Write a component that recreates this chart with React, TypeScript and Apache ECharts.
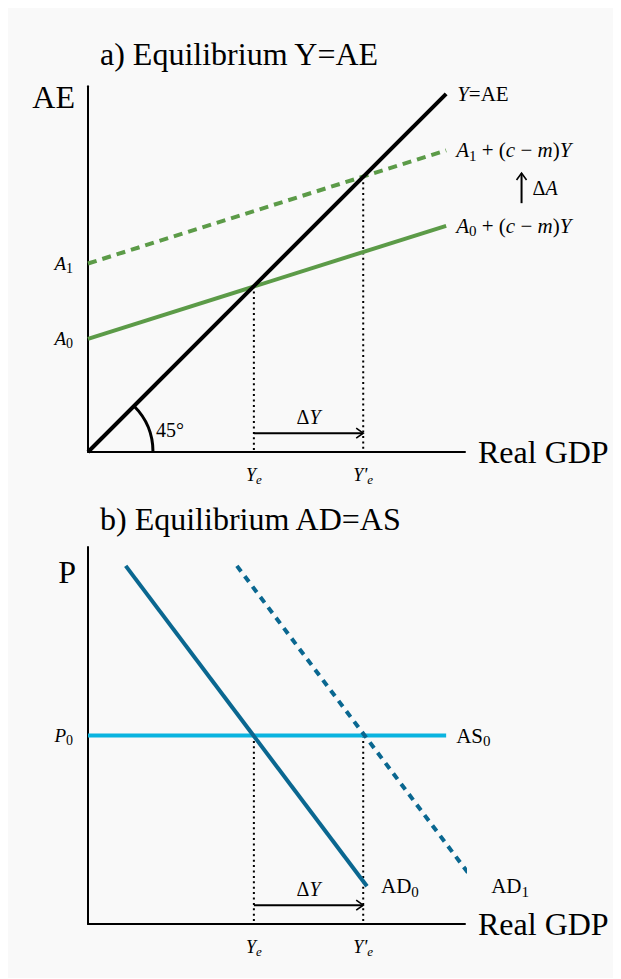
import React, { useEffect, useRef } from "react";
import * as echarts from "echarts";

// ---------- data (axis units; both panels share x scale 0..100) ----------
// Panel a) Equilibrium Y = AE
const lineYeqAE = [[0, 0], [95, 95]];
const lineA0 = [[0, 30], [95, 60]];
const lineA1 = [[0, 50], [95, 80]];
const A0 = 30;
const A1 = 50;
const Ye = 44;
const YeP = 73;
const dottedA = [
  [[Ye, Ye], [Ye, 0]],
  [[YeP, YeP], [YeP, 0]],
];
const arrowsA = [
  [Ye, 5, YeP, 5],
  [115, 66, 115, 74],
];
const arrowLabelsA = ["{n|Δ}{i|Y}", "{n|Δ}{i|A}"];
const arrowLabelSideA = ["above", "right"];

// Panel b) Equilibrium AD = AS
const P0 = 50;
const lineAS0 = [[0, P0], [95, P0]];
const lineAD0 = [[10, 95], [74, 10]];
const lineAD1 = [[39.5, 95], [103.5, 10]];
const dottedB = [
  [[Ye, P0], [Ye, 0]],
  [[YeP, P0], [YeP, 0]],
];
const arrowsB = [[Ye, 5, YeP, 5]];
const arrowLabelsB = ["{n|Δ}{i|Y}"];
const arrowLabelSideB = ["above"];

const titles = ["a) Equilibrium Y=AE", "b) Equilibrium AD=AS"];
const yNames = ["AE", "P"];
const xName = "Real GDP";

// ---------- styles ----------
const F = "Liberation Serif, Times New Roman, serif";
const GREEN = "#5c9b48";
const BLUE = "#0a6790";
const CYAN = "#0ab4e0";
const BLACK = "#000";
const BIG = 32;

function rich(size: number, sub: number) {
  return {
    i: { fontFamily: F, fontStyle: "italic", fontSize: size, lineHeight: size + 5, color: BLACK, fill: BLACK },
    n: { fontFamily: F, fontSize: size, lineHeight: size + 5, color: BLACK, fill: BLACK },
    s: { fontFamily: F, fontSize: sub, lineHeight: sub - 2, verticalAlign: "bottom", color: BLACK, fill: BLACK },
    se: { fontFamily: F, fontStyle: "italic", fontSize: sub, lineHeight: sub - 2, verticalAlign: "bottom", color: BLACK, fill: BLACK },
    p: { fontFamily: F, fontStyle: "italic", fontSize: size + 1, lineHeight: size + 5, color: BLACK, fill: BLACK },
  };
}

function seg(idx: number, data: number[][], color: string, width: number, type: any, label?: { text: string; distance: number }) {
  const d: any[] = data.map((p) => p.slice());
  if (label) {
    d[d.length - 1] = {
      value: data[data.length - 1],
      label: {
        show: true,
        position: "right",
        distance: label.distance,
        formatter: label.text,
        rich: rich(21, 15),
      },
    };
  }
  return {
    type: "line",
    xAxisIndex: idx,
    yAxisIndex: idx,
    data: d,
    symbol: "circle",
    symbolSize: 0,
    showSymbol: true,
    clip: false,
    silent: true,
    itemStyle: { color },
    lineStyle: { color, width, type, cap: "butt" },
    z: 3,
  };
}

function arrowSeries(idx: number, arrows: number[][], labels: string[], sides: string[]) {
  return {
    type: "custom",
    xAxisIndex: idx,
    yAxisIndex: idx,
    silent: true,
    clip: false,
    z: 4,
    encode: { x: [0, 2], y: [1, 3] },
    data: arrows,
    renderItem: (params: any, api: any) => {
      const i = params.dataIndex;
      const p1 = api.coord([api.value(0), api.value(1)]);
      const p2 = api.coord([api.value(2), api.value(3)]);
      const ang = Math.atan2(p2[1] - p1[1], p2[0] - p1[0]);
      const c = Math.cos(ang);
      const s = Math.sin(ang);
      const L = 7;
      const W = 5;
      const bx = p2[0] - L * c;
      const by = p2[1] - L * s;
      const mid = [(p1[0] + p2[0]) / 2, (p1[1] + p2[1]) / 2];
      const side = sides[i];
      const tx = side === "above" ? mid[0] : mid[0] + 11;
      const ty = side === "above" ? mid[1] - 16 : mid[1];
      return {
        type: "group",
        children: [
          {
            type: "line",
            shape: { x1: p1[0], y1: p1[1], x2: p2[0] - 0.5 * c, y2: p2[1] - 0.5 * s },
            style: { stroke: BLACK, lineWidth: 2 },
          },
          {
            type: "polyline",
            shape: { points: [[bx - W * s, by + W * c], [p2[0], p2[1]], [bx + W * s, by - W * c]] },
            style: { stroke: BLACK, lineWidth: 1.6, fill: null },
          },
          {
            type: "text",
            x: tx,
            y: ty,
            style: {
              text: labels[i],
              rich: rich(20, 14),
              align: side === "above" ? "center" : "left",
              verticalAlign: "middle",
              fill: BLACK,
            },
          },
        ],
      };
    },
  };
}

function angleSeries(idx: number) {
  return {
    type: "custom",
    xAxisIndex: idx,
    yAxisIndex: idx,
    silent: true,
    clip: false,
    z: 4,
    data: [[0, 0]],
    renderItem: (params: any, api: any) => {
      const o = api.coord([api.value(0), api.value(1)]);
      return {
        type: "group",
        children: [
          {
            type: "arc",
            shape: { cx: o[0], cy: o[1], r: 65, startAngle: -Math.PI / 4, endAngle: 0, clockwise: true },
            style: { stroke: BLACK, lineWidth: 3, fill: null },
          },
          {
            type: "text",
            x: o[0] + 68,
            y: o[1] - 22,
            style: { text: "45°", fontFamily: F, fontSize: 20, fill: BLACK, align: "left", verticalAlign: "middle" },
          },
        ],
      };
    },
  };
}

function xAxis(idx: number) {
  return {
    type: "value",
    gridIndex: idx,
    min: 0,
    max: 100,
    name: xName,
    nameLocation: "end",
    nameGap: 13,
    nameTextStyle: { fontFamily: F, fontSize: BIG, color: BLACK, verticalAlign: "middle" },
    axisLine: { show: true, onZero: false, lineStyle: { color: BLACK, width: 2 } },
    axisTick: { show: false },
    splitLine: { show: false },
    axisLabel: {
      customValues: [Ye, YeP],
      margin: 11,
      formatter: (v: number) => (v === Ye ? "{i|Y}{se|e}" : "{i|Y}{p|'}{se|e}"),
      rich: rich(18, 13),
    },
  };
}

function yAxis(idx: number, max: number, values: number[], fmt: (v: number) => string) {
  return {
    type: "value",
    gridIndex: idx,
    min: 0,
    max,
    axisLine: { show: true, onZero: false, lineStyle: { color: BLACK, width: 2 } },
    axisTick: { show: false },
    splitLine: { show: false },
    axisLabel: {
      customValues: values,
      margin: 15,
      formatter: fmt,
      rich: rich(19, 14),
    },
  };
}

export default function App() {
  const ref = useRef<HTMLDivElement>(null);
  useEffect(() => {
    document.documentElement.style.overflow = "hidden";
    const chart = echarts.init(ref.current!, null, { renderer: "svg" });
    const option: any = {
      animation: false,
      backgroundColor: "#f9f9f9",
      textStyle: { fontFamily: F },
      grid: [
        { left: 80, top: 78.3, width: 377, height: 365.7 },
        { left: 80, top: 539, width: 377, height: 377 },
      ],
      xAxis: [xAxis(0), xAxis(1)],
      yAxis: [
        yAxis(0, 97, [A0, A1], (v: number) => (v === A0 ? "{i|A}{s|0}" : "{i|A}{s|1}")),
        yAxis(1, 100, [P0], () => "{i|P}{s|0}"),
      ],
      graphic: [
        { type: "text", x: 92, y: 45.5, style: { text: titles[0], fontFamily: F, fontSize: BIG, fill: BLACK, verticalAlign: "middle" } },
        { type: "text", x: 92, y: 511, style: { text: titles[1], fontFamily: F, fontSize: BIG, fill: BLACK, verticalAlign: "middle" } },
        { type: "text", x: 67, y: 89, style: { text: yNames[0], fontFamily: F, fontSize: BIG, fill: BLACK, align: "right", verticalAlign: "middle" } },
        { type: "text", x: 68, y: 564, style: { text: yNames[1], fontFamily: F, fontSize: BIG, fill: BLACK, align: "right", verticalAlign: "middle" } },
      ],
      series: [
        // panel a
        ...dottedA.map((d) => seg(0, d, BLACK, 2, [2, 3.4])),
        seg(0, lineA0, GREEN, 4, "solid", { text: "{i|A}{s|0}{n| + (}{i|c}{n| − }{i|m}{n|)}{i|Y}", distance: 10 }),
        seg(0, lineA1, GREEN, 4, [9, 6], { text: "{i|A}{s|1}{n| + (}{i|c}{n| − }{i|m}{n|)}{i|Y}", distance: 10 }),
        seg(0, lineYeqAE, BLACK, 4, "solid", { text: "{i|Y}{n|=AE}", distance: 11 }),
        angleSeries(0),
        arrowSeries(0, arrowsA, arrowLabelsA, arrowLabelSideA),
        // panel b
        ...dottedB.map((d) => seg(1, d, BLACK, 2, [2, 3.4])),
        seg(1, lineAS0, CYAN, 4, "solid", { text: "{n|AS}{s|0}", distance: 10 }),
        seg(1, lineAD0, BLUE, 4, "solid", { text: "{n|AD}{s|0}", distance: 14 }),
        seg(1, lineAD1, BLUE, 4, [7, 6], { text: "{n|AD}{s|1}", distance: 13 }),
        arrowSeries(1, arrowsB, arrowLabelsB, arrowLabelSideB),
      ],
    };
    chart.setOption(option);
    return () => chart.dispose();
  }, []);
  return <div ref={ref} style={{ width: 613, height: 970, background: "#f9f9f9" }} />;
}
